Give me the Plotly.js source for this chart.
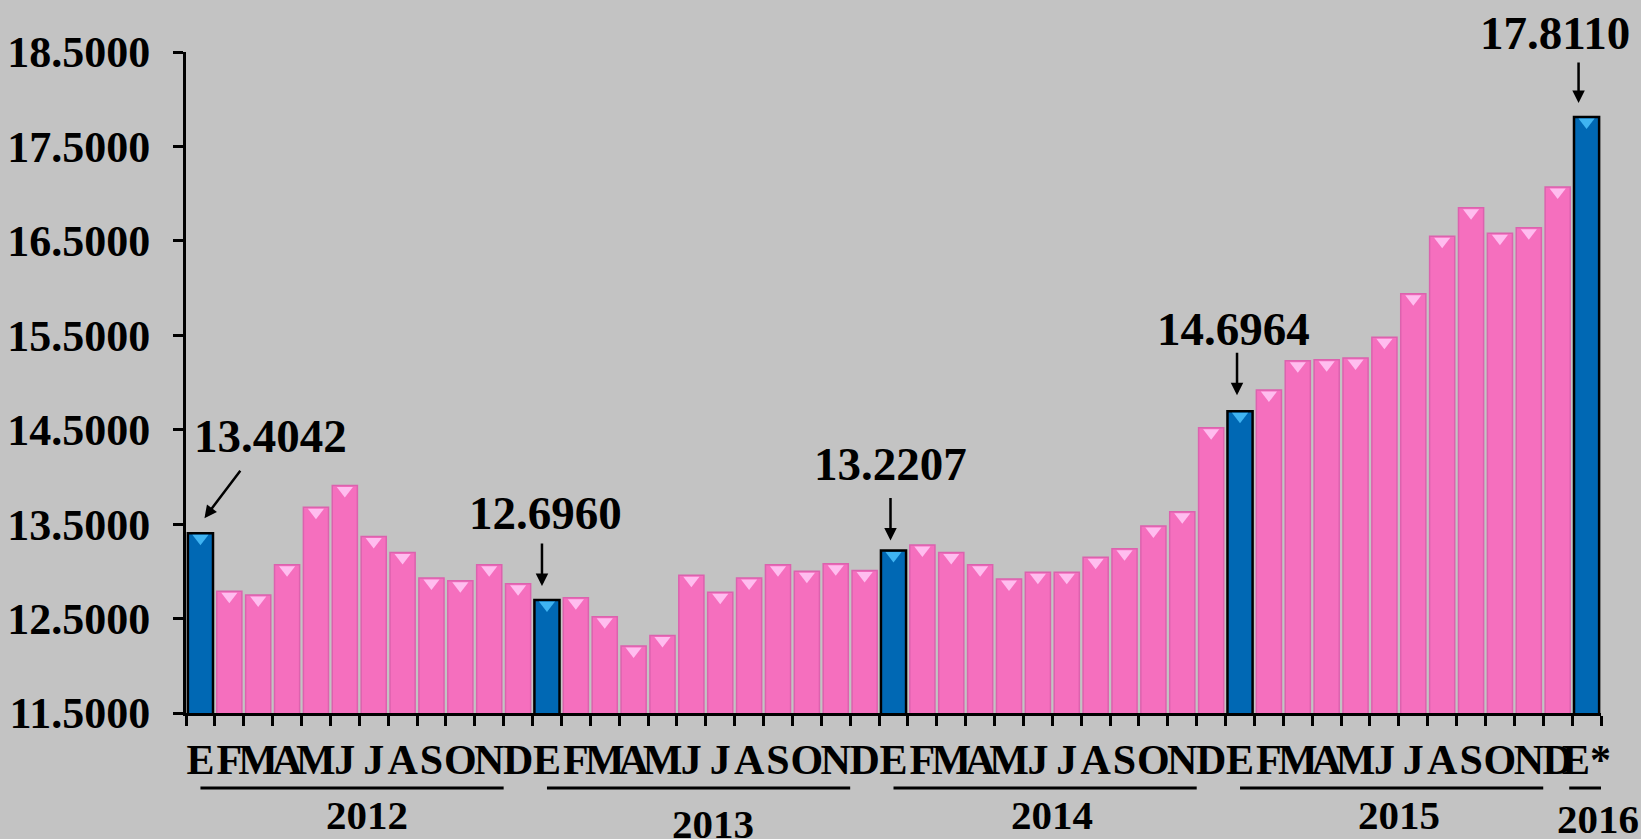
<!DOCTYPE html>
<html>
<head>
<meta charset="utf-8">
<script src="https://cdn.plot.ly/plotly-3.0.1.min.js"></script>
<style>
  html, body { margin: 0; padding: 0; background: #C3C3C3; }
  #chart { width: 1641px; height: 839px; }
</style>
</head>
<body>
<div id="chart"></div>
<script>
// ---- data ----
const monthLetters = ['E','F','M','A','M','J','J','A','S','O','N','D'];
const years = ['2012','2013','2014','2015','2016'];
const values2012 = [13.4042, 12.79, 12.75, 13.07, 13.68, 13.91, 13.37, 13.20, 12.93, 12.90, 13.07, 12.87];
const values2013 = [12.6960, 12.72, 12.52, 12.21, 12.32, 12.96, 12.78, 12.93, 13.07, 13.00, 13.08, 13.01];
const values2014 = [13.2207, 13.28, 13.20, 13.07, 12.92, 12.99, 12.99, 13.15, 13.24, 13.48, 13.63, 14.52];
const values2015 = [14.6964, 14.92, 15.23, 15.24, 15.26, 15.48, 15.94, 16.55, 16.85, 16.58, 16.64, 17.07];
const values2016 = [17.8110];
const lastTickSuffix = '*';
const calloutTexts = ['13.4042', '12.6960', '13.2207', '14.6964', '17.8110'];

// ---- build categories ----
const yearValues = [values2012, values2013, values2014, values2015, values2016];
const ids = [], ticks = [], vals = [], isJan = [], groups = [];
yearValues.forEach((arr, k) => {
  const first = ids.length;
  arr.forEach((v, m) => {
    ids.push(years[k] + '-' + (m + 1));
    ticks.push(monthLetters[m]);
    vals.push(v);
    isJan.push(m === 0);
  });
  groups.push({ first: first, last: ids.length - 1 });
});
ticks[ticks.length - 1] += lastTickSuffix;

const pinkFill = '#F56FBE', pinkLine = '#DC62AE';
const blueFill = '#0068B4', blueLine = '#000000';

const bars = {
  type: 'bar',
  x: ids,
  y: vals,
  marker: {
    color: isJan.map(j => j ? blueFill : pinkFill),
    line: { color: isJan.map(j => j ? blueLine : pinkLine), width: isJan.map(j => j ? 2.5 : 1.5) }
  },
  hoverinfo: 'x+y'
};

// bevel highlight at the top of each bar (placed relative to bar value)
const pxPerUnit = 661 / 7;
const bevel = {
  type: 'scatter',
  mode: 'markers',
  x: ids,
  y: vals.map(v => v - 5 / pxPerUnit),
  marker: {
    symbol: 'triangle-down',
    size: 14,
    color: isJan.map(j => j ? '#3FB4F2' : '#FFBDEF'),
    line: { width: 0 }
  },
  hoverinfo: 'skip'
};

// ---- annotations ----
const font = 'Liberation Serif, Times New Roman, serif';
const calloutStyle = [
  { tx: 70, ty: 97, hx: 4, hy: 15, ax: 37, ay: -49 },
  { tx: -1, ty: 87, hx: -5, hy: 14, ax: 0, ay: -44 },
  { tx: -3, ty: 87, hx: -3, hy: 10, ax: 0, ay: -44 },
  { tx: -7, ty: 82, hx: -3, hy: 16, ax: 0, ay: -44 },
  { tx: -32, ty: 84, hx: -8, hy: 14, ax: 0, ay: -42 }
];
const annotations = [];
const janIdx = isJan.map((j, i) => j ? i : -1).filter(i => i >= 0);
janIdx.forEach((i, n) => {
  const s = calloutStyle[n];
  annotations.push({
    x: i, y: vals[i], xref: 'x', yref: 'y',
    text: calloutTexts[n], showarrow: false,
    xshift: s.tx, yshift: s.ty,
    xanchor: 'center', yanchor: 'middle',
    font: { family: font, size: 47, color: '#000', weight: 'bold' }
  });
  annotations.push({
    x: i, y: vals[i], xref: 'x', yref: 'y',
    text: '', showarrow: true,
    xshift: s.hx, yshift: s.hy,
    ax: s.ax, ay: s.ay,
    arrowhead: 2, arrowsize: 1, arrowwidth: 2.5, arrowcolor: '#000'
  });
});

const yearLabelShift = [
  { dx: 8, y: -0.154 },
  { dx: 7, y: -0.168 },
  { dx: 0, y: -0.154 },
  { dx: 0, y: -0.154 },
  { dx: 11, y: -0.160 }
];
const shapes = [];
groups.forEach((g, k) => {
  const full = g.last > g.first;
  const x0 = full ? g.first : g.first - 0.6;
  const x1 = full ? g.last - 0.5 : g.first + 1.0;
  shapes.push({
    type: 'line', xref: 'x', yref: 'paper',
    x0: x0, x1: x1, y0: -0.1135, y1: -0.1135,
    line: { color: '#000', width: 3 }
  });
  annotations.push({
    x: (g.first + g.last) / 2, y: yearLabelShift[k].y,
    xref: 'x', yref: 'paper',
    xshift: yearLabelShift[k].dx,
    text: years[k], showarrow: false,
    xanchor: 'center', yanchor: 'middle',
    font: { family: font, size: 41, color: '#000', weight: 'bold' }
  });
});

const layout = {
  width: 1641, height: 839,
  paper_bgcolor: '#C3C3C3',
  plot_bgcolor: '#C3C3C3',
  margin: { l: 186, r: 40, t: 52, b: 126 },
  showlegend: false,
  bargap: 0.13,
  font: { family: font, color: '#000', weight: 'bold' },
  xaxis: {
    type: 'category',
    range: [-0.5, ids.length - 0.5],
    tickmode: 'array',
    tickvals: ids,
    ticktext: ticks,
    tickson: 'boundaries',
    tickangle: 0,
    ticks: 'outside', ticklen: 10, tickwidth: 3, tickcolor: '#000',
    ticklabelstandoff: 8,
    showline: true, linecolor: '#000', linewidth: 3,
    showgrid: false, zeroline: false,
    tickfont: { family: font, size: 42, color: '#000', weight: 'bold' },
    automargin: false,
    fixedrange: true
  },
  yaxis: {
    range: [11.5, 18.5],
    tick0: 11.5, dtick: 1,
    tickformat: '.4f',
    ticks: 'outside', ticklen: 10, tickwidth: 3, tickcolor: '#000',
    ticklabelstandoff: 14,
    showline: true, linecolor: '#000', linewidth: 3,
    showgrid: false, zeroline: false,
    tickfont: { family: font, size: 44, color: '#000', weight: 'bold' },
    automargin: false,
    fixedrange: true
  },
  annotations: annotations,
  shapes: shapes
};

Plotly.newPlot('chart', [bars, bevel], layout, { displayModeBar: false, staticPlot: true });
</script>
</body>
</html>
